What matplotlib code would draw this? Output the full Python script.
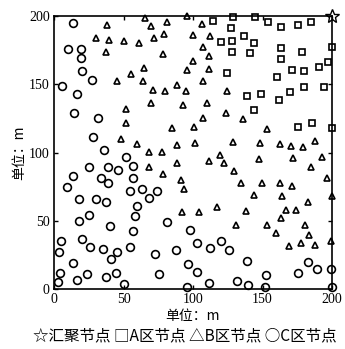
import matplotlib
matplotlib.use("Agg")
import matplotlib.pyplot as plt

# Sink node
sink_x = [200]
sink_y = [200]

# A-zone nodes (squares)
a_x = [114.6, 129, 144.6, 153.7, 163.3, 127.3, 175.3, 184.9, 120.1, 128.3, 136.9, 144.1,
       128.3, 141, 163.3, 178.2, 200, 163.1, 124.2, 160.2, 171, 180.1, 190.9, 197.3,
       139.1, 148.9, 161.9, 169.8, 180.1, 194.2, 144.1, 175.3, 185.8, 200]
a_y = [196.5, 199.5, 199.5, 195.8, 191.7, 191.2, 193.6, 195.8, 181.1, 181.9, 185.1, 180.1,
       173.8, 172.8, 176.3, 173.8, 177, 168.4, 158.1, 155.4, 160.3, 159.8, 162.3, 166,
       141.4, 142.6, 138.5, 144.6, 148.3, 148.3, 130.9, 118.6, 121.8, 118.1]

# B-zone nodes (triangles)
b_x = [37.9, 30, 39.6, 50.4, 61.4, 37.4, 65.5, 69.6, 81, 71.9, 79.1, 78.2, 64.7, 55.4,
       45.5, 63.8, 71.4, 79.9, 88.3, 69.6, 51.8, 51.8, 84.7, 48, 59.5, 68.6, 77.5, 88.7,
       68.3, 78.6,
       95.5, 106.7, 99.8, 112.2, 107.4, 111.5, 100.2, 95.5, 111.5, 107.4, 94.7, 93, 109.9,
       124.2, 123.7, 107, 100.7, 136.2, 153, 101.4, 129, 148.2, 162.6, 170.5, 179.4, 187.8,
       88.3, 111.7, 119.4, 122.5, 129.5, 91.4, 93.5, 134.5, 149.9, 143.9, 162.6, 171.4,
       164.2, 147.7, 171.7, 192.6, 184.7, 196.2, 199.8, 182.5, 166.7, 173.9, 163.3, 91.9,
       104.5, 117, 137.9, 130.7, 153.5, 159.7, 180.6, 183.7, 177.5, 187.8, 169, 199]
b_y = [193.4, 183.6, 182.6, 181.9, 179.9, 173.3, 198.5, 192.4, 195.4, 183.8, 186.8, 172,
       161.8, 157.4, 152.4, 152.4, 145.8, 145.1, 149.3, 136.5, 132.1, 121.8, 117.6, 109.6,
       105.9, 100.2, 100.2, 105.4,
       89.2, 84.3,
       199.8, 194, 186, 185.5, 177, 170.8, 166.7, 160.3, 161, 152.4, 145, 134.6, 136.5,
       145.1, 129.2, 125, 118.6, 124.3, 116.9, 106.6, 107.6, 107.1, 106.4, 104.6, 103.9, 108.3,
       92.4, 94, 98.5, 92.4, 86.8, 79.6, 73.3, 77.7, 77.7, 68.6, 77.7, 75.2,
       67.9, 94.9, 96, 96.5, 89.5, 81.4, 67.9, 63.7, 58, 58, 52, 56.1,
       56.1, 59.8, 56.8, 47, 46.6, 40.9, 46.6, 39.2, 34, 32.4, 31.6, 34.8]

# C-zone nodes (circles)
c_x = [13.4, 10.3, 19.4, 19.4, 20.4, 27.3, 5.5, 16.3, 14.4, 31.4, 27.8, 36, 51.8,
       25.4, 39, 46.3, 56.6, 13.9, 33.6, 39, 56.6, 9.6, 54.7, 63, 73.9, 68, 18.2, 30.2,
       37.4, 59.5, 25.2, 58.3, 18, 81, 40.3, 56.6, 20.4, 5, 25.9, 35, 54.7, 3.8, 45.5,
       41, 72.7, 87.5, 13.9, 4.3, 24, 44.6, 75.8, 2.7, 16.8, 37.4, 50.4,
       97.8, 102.6, 112.2, 120, 126, 96.2, 102.6, 138.6, 111.5, 95.5, 131.4, 139.8,
       152.3, 151.8, 183, 189.4, 175.8, 199, 200]
c_y = [195, 176, 176, 169, 160, 153, 149, 143, 129, 125, 111, 102, 97,
       89.5, 89.5, 87.5, 90, 82.6, 81.4, 78, 81.4, 74.5, 71.6, 73.3, 71.6, 66.7, 66.2, 66.2,
       63.5, 60.5, 54.4, 53.2, 50, 49, 46.3, 42.6, 36.5, 34.8, 31.1, 29.2, 31.1, 27, 27.4,
       22, 25.7, 28.7, 18.9, 11.5, 10.8, 11.5, 10.8, 4.9, 6.6, 8.6, 3.4,
       43.4, 33.6, 30.4, 34.8, 28.7, 18.6, 12.3, 20.6, 4.6, 1.7, 5.9, 2.9,
       10.3, 1.7, 19.6, 14.7, 11.5, 14.7, 1.5]

ticks = [0, 50, 100, 150, 200]
tick_labels = ["0", "50", "100", "150", "200"]
axis_label = "单位：m"
legend_text = "☆汇聚节点 □A区节点 △B区节点 ○C区节点"

cjk = ["Noto Sans CJK SC", "DejaVu Sans"]
serif = ["Liberation Serif", "DejaVu Serif"]

fig = plt.figure(figsize=(3.45, 3.49), dpi=100)
ax = fig.add_axes([54/345, 1 - 289/349, (332-54)/345, (289-16)/349])

kw = dict(linestyle="none", color="black", markerfacecolor="none", clip_on=False)
ax.plot(c_x, c_y, marker="o", markersize=5.6, markeredgewidth=1.2, **kw)
ax.plot(b_x, b_y, marker="^", markersize=5.0, markeredgewidth=1.2, **kw)
ax.plot(a_x, a_y, marker="s", markersize=3.8, markeredgewidth=1.2, **kw)
ax.plot(sink_x, sink_y, marker="*", markersize=10, markeredgewidth=1.0, zorder=5, **kw)

ax.set_xlim(0, 200)
ax.set_ylim(0, 200)
ax.set_xticks(ticks)
ax.set_yticks(ticks)
ax.set_xticklabels(tick_labels, family=serif, fontsize=10)
ax.set_yticklabels(tick_labels, family=serif, fontsize=10)
ax.tick_params(direction="in", length=3, width=1, top=True, right=True, pad=3)
for s in ax.spines.values():
    s.set_linewidth(1.2)

ax.set_xlabel(axis_label, family=cjk, fontsize=10, labelpad=2)
ax.set_ylabel(axis_label, family=cjk, fontsize=10, labelpad=2)

fig.text(0.535, 1 - 336/349, legend_text, family=cjk, fontsize=11.2,
         ha="center", va="center")

fig.savefig("out.png", dpi=100)
